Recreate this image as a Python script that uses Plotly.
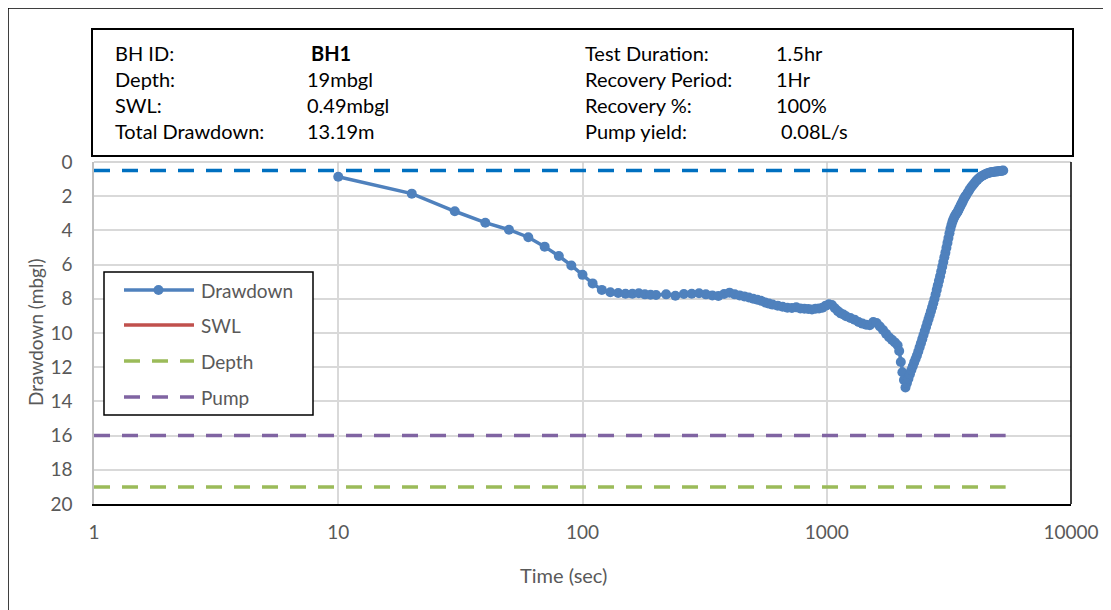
import plotly.graph_objects as go

# ---------------- data ----------------
time_s = [
    10, 20, 30, 40, 50, 60, 70, 80, 90, 100,
    110, 120, 130, 140, 150, 160, 170, 180, 190, 200,
    220, 240, 260, 280, 300, 320, 340, 360, 380, 400,
    420, 440, 460, 480, 500, 520, 540, 560, 580, 600,
    630, 660, 690, 720, 750, 780, 810, 840, 870, 900,
    930, 960, 990, 1020, 1050, 1080, 1110, 1140, 1170, 1200,
    1250, 1300, 1350, 1400, 1450, 1500, 1550, 1600, 1650, 1700,
    1750, 1800, 1850, 1900, 1950, 1980, 2010, 2040, 2070, 2100,
    2130, 2160, 2190, 2220, 2250, 2280, 2310, 2340, 2370, 2400,
    2430, 2460, 2490, 2520, 2550, 2580, 2610, 2640, 2670, 2700,
    2730, 2760, 2790, 2820, 2850, 2880, 2910, 2940, 2970, 3000,
    3030, 3060, 3090, 3120, 3150, 3180, 3210, 3240, 3270, 3300,
    3330, 3360, 3390, 3420, 3450, 3480, 3510, 3540, 3570, 3600,
    3630, 3660, 3690, 3720, 3780, 3840, 3900, 3960, 4020, 4080,
    4140, 4200, 4260, 4320, 4380, 4440, 4500, 4560, 4620, 4680,
    4740, 4800, 4860, 4920, 4980, 5040, 5100, 5160, 5220, 5280,
]
drawdown_m = [
    0.86, 1.85, 2.88, 3.55, 3.96, 4.40, 4.95, 5.50, 6.05, 6.60,
    7.10, 7.48, 7.62, 7.66, 7.70, 7.70, 7.68, 7.74, 7.76, 7.78,
    7.74, 7.82, 7.72, 7.70, 7.68, 7.74, 7.80, 7.84, 7.72, 7.64,
    7.74, 7.80, 7.86, 7.92, 8.00, 8.06, 8.12, 8.22, 8.28, 8.34,
    8.40, 8.46, 8.52, 8.54, 8.50, 8.56, 8.58, 8.60, 8.62, 8.58,
    8.56, 8.52, 8.40, 8.32, 8.36, 8.55, 8.72, 8.85, 8.92, 9.02,
    9.12, 9.22, 9.36, 9.45, 9.52, 9.55, 9.36, 9.42, 9.62, 9.82,
    10.05, 10.25, 10.40, 10.55, 10.72, 11.05, 11.70, 12.30, 12.75, 13.19,
    12.93, 12.67, 12.41, 12.16, 11.94, 11.72, 11.52, 11.32, 11.08, 10.84,
    10.60, 10.36, 10.12, 9.88, 9.65, 9.42, 9.19, 8.96, 8.73, 8.50,
    8.26, 8.01, 7.75, 7.48, 7.21, 6.94, 6.68, 6.41, 6.13, 5.85,
    5.57, 5.30, 5.02, 4.73, 4.45, 4.17, 3.90, 3.68, 3.50, 3.35,
    3.22, 3.11, 3.03, 2.95, 2.85, 2.74, 2.63, 2.52, 2.42, 2.32,
    2.21, 2.11, 2.02, 1.95, 1.78, 1.63, 1.48, 1.36, 1.24, 1.13,
    1.03, 0.95, 0.88, 0.82, 0.77, 0.73, 0.69, 0.66, 0.63, 0.61,
    0.59, 0.58, 0.57, 0.56, 0.55, 0.54, 0.53, 0.52, 0.51, 0.50,
]
ref_time = [1, 5400]
swl_level = [0.49, 0.49]
pump_level = [16, 16]
depth_level = [19, 19]

x_tick_vals = [1, 10, 100, 1000, 10000]
x_tick_text = ["1", "10", "100", "1000", "10000"]
y_tick_vals = [0, 2, 4, 6, 8, 10, 12, 14, 16, 18, 20]

header_left = [("BH ID:", "<b>BH1</b>"), ("Depth:", "19mbgl"),
               ("SWL:", "0.49mbgl"), ("Total Drawdown:", "13.19m")]
header_right = [("Test Duration:", "1.5hr"), ("Recovery Period:", "1Hr"),
                ("Recovery %:", "100%"), ("Pump yield:", "0.08L/s")]
legend_names = ["Drawdown", "SWL", "Depth", "Pump"]

# ---------------- styling ----------------
FONT = "Lato, Carlito, Calibri, sans-serif"
GREY = "#595959"
C_DD = "#4F81BD"
C_SWLLINE = "#0070C0"
C_SWL = "#C0504D"
C_DEPTH = "#9BBB59"
C_PUMP = "#8064A2"
DASH = "16px,12px"

OFF = 8  # page body margin offset
W, H = 1111 - OFF, 610 - OFF
L, R, T, B = 94, 1071, 162, 504  # plot area in screen pixels


def px(x):
    return (x - L) / (R - L)


def py(y):
    return (B - y) / (B - T)


fig = go.Figure()
fig.add_trace(go.Scatter(x=ref_time, y=depth_level, mode="lines",
                         line=dict(color=C_DEPTH, width=3.5, dash=DASH),
                         showlegend=False, name="Depth"))
fig.add_trace(go.Scatter(x=ref_time, y=pump_level, mode="lines",
                         line=dict(color=C_PUMP, width=3.5, dash=DASH),
                         showlegend=False, name="Pump"))
fig.add_trace(go.Scatter(x=ref_time, y=swl_level, mode="lines",
                         line=dict(color=C_SWLLINE, width=3.5, dash=DASH),
                         showlegend=False, name="SWL"))
fig.add_trace(go.Scatter(x=time_s, y=drawdown_m, mode="lines+markers",
                         line=dict(color=C_DD, width=3.5),
                         marker=dict(color=C_DD, size=10),
                         showlegend=False, name="Drawdown"))

shapes = []
# outer chart border
shapes.append(dict(type="rect", xref="paper", yref="paper",
                   x0=px(8), x1=px(1130), y0=py(8), y1=py(630),
                   line=dict(color="black", width=1.5), layer="below"))
# header box
shapes.append(dict(type="rect", xref="paper", yref="paper",
                   x0=px(92), x1=px(1073), y0=py(29), y1=py(156),
                   line=dict(color="black", width=2)))
# plot-area top border (grey) and right border (black)
shapes.append(dict(type="line", xref="paper", yref="paper",
                   x0=0, x1=1, y0=1, y1=1,
                   line=dict(color="#c8c8c8", width=1.5)))
shapes.append(dict(type="line", xref="paper", yref="paper",
                   x0=1, x1=1, y0=0, y1=1,
                   line=dict(color="black", width=1.5)))

# manual legend
shapes.append(dict(type="rect", xref="paper", yref="paper",
                   x0=px(104), x1=px(313), y0=py(272), y1=py(415),
                   fillcolor="white", line=dict(color="black", width=1.5)))
leg_rows = [290, 325, 361, 397]
leg_styles = [(C_DD, "solid"), (C_SWL, "solid"), (C_DEPTH, DASH), (C_PUMP, DASH)]
annotations = []
for name, yy, (col, dsh) in zip(legend_names, leg_rows, leg_styles):
    shapes.append(dict(type="line", xref="paper", yref="paper",
                       x0=px(124), x1=px(194), y0=py(yy), y1=py(yy),
                       line=dict(color=col, width=3.5, dash=dsh)))
    annotations.append(dict(x=px(199), y=py(yy), xref="paper", yref="paper",
                            text=name, showarrow=False, xanchor="left",
                            yanchor="middle",
                            font=dict(family=FONT, size=19, color=GREY)))
shapes.append(dict(type="circle", xref="paper", yref="paper",
                   x0=px(153.5), x1=px(163.5), y0=py(285), y1=py(295),
                   fillcolor=C_DD, line=dict(color=C_DD, width=0)))

# header text
rows_y = [53, 79, 105, 131]
for (lab, val), yy in zip(header_left, rows_y):
    annotations.append(dict(x=px(113), y=py(yy), xref="paper", yref="paper",
                            text=lab, showarrow=False, xanchor="left", yanchor="middle",
                            font=dict(family=FONT, size=20, color="black")))
    annotations.append(dict(x=px(309 if "BH1" in val else 305), y=py(yy),
                            xref="paper", yref="paper",
                            text=val, showarrow=False, xanchor="left", yanchor="middle",
                            font=dict(family=FONT, size=20, color="black")))
for (lab, val), yy in zip(header_right, rows_y):
    annotations.append(dict(x=px(583), y=py(yy), xref="paper", yref="paper",
                            text=lab, showarrow=False, xanchor="left", yanchor="middle",
                            font=dict(family=FONT, size=20, color="black")))
    annotations.append(dict(x=px(779 if val == "0.08L/s" else 774), y=py(yy),
                            xref="paper", yref="paper",
                            text=val, showarrow=False, xanchor="left", yanchor="middle",
                            font=dict(family=FONT, size=20, color="black")))

# axis titles
annotations.append(dict(x=px(35), y=py(333), xref="paper", yref="paper",
                        text="Drawdown (mbgl)", textangle=-90, showarrow=False,
                        xanchor="center", yanchor="middle",
                        font=dict(family=FONT, size=19, color=GREY)))
annotations.append(dict(x=px(563), y=py(575), xref="paper", yref="paper",
                        text="Time (sec)", showarrow=False,
                        xanchor="center", yanchor="middle",
                        font=dict(family=FONT, size=20, color=GREY)))

fig.update_layout(
    width=W, height=H, autosize=False,
    margin=dict(l=L - OFF, r=W - (R - OFF), t=T - OFF, b=H - (B - OFF), pad=0),
    paper_bgcolor="white", plot_bgcolor="white",
    showlegend=False,
    shapes=shapes, annotations=annotations,
    font=dict(family=FONT, size=19, color=GREY),
    xaxis=dict(type="log", range=[0, 4], tickvals=x_tick_vals, ticktext=x_tick_text,
               showgrid=True, gridcolor="#d9d9d9", gridwidth=1.5,
               showline=True, linecolor="black", linewidth=1.5,
               zeroline=False, ticks="", ticklabelstandoff=10,
               tickfont=dict(family=FONT, size=19, color=GREY)),
    yaxis=dict(range=[20, 0], tickvals=y_tick_vals,
               showgrid=True, gridcolor="#d9d9d9", gridwidth=1.5,
               showline=True, linecolor="#bfbfbf", linewidth=1.5,
               zeroline=False, ticks="", ticklabelstandoff=16,
               tickfont=dict(family=FONT, size=19, color=GREY)),
)

fig.write_html("out.html")
